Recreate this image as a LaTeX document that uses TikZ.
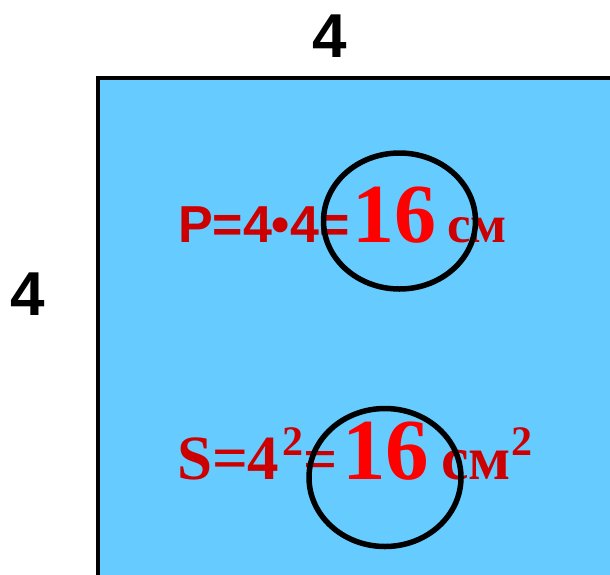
\documentclass[tikz,border=0pt]{standalone}
\usepackage{fontspec}
\newfontfamily\arialb{Liberation Sans}[UprightFont=* Bold]
\newfontfamily\timesb{Liberation Serif}[UprightFont=* Bold]
\definecolor{sqblue}{HTML}{66CCFF}
\definecolor{dred}{HTML}{CC0000}
\definecolor{bred}{HTML}{FF0000}
\tikzset{
  txt/.style={inner sep=0pt, outer sep=0pt, anchor=base west},
  ring/.style={draw=black, line width=5.5pt},
}
\begin{document}
\begin{tikzpicture}[x=1pt,y=-1pt]
\useasboundingbox (0,0) rectangle (610,574);
\fill[white] (0,0) rectangle (610,574);
% square
\draw[fill=sqblue, line width=3.5pt] (98,78) -- (614,78) -- (614,578) -- (98,578) -- cycle;
\node[txt] (top) at (312,57) {\fontsize{62}{62}\arialb 4};
\node[txt] (left) at (10,315) {\fontsize{62}{62}\arialb 4};
% line 1
\node[txt, text=dred] (p1) at (178,242) {\fontsize{52}{52}\arialb P=4•4=};
\node[txt, text=bred] (p2) at (352,242) {\fontsize{84}{84}\timesb 16};
\node[txt, text=dred] (p3) at (447,242) {\fontsize{53}{53}\timesb см};
% line 2
\node[txt, text=dred] (s1) at (177,479) {\fontsize{63}{63}\timesb S=4};
\node[txt, text=dred] (s2) at (282,455) {\fontsize{42}{42}\timesb 2};
\node[txt, text=dred] (s3) at (303,479) {\fontsize{60}{60}\timesb =};
\node[txt, text=bred] (s4) at (342,479) {\fontsize{87}{87}\timesb 16};
\node[txt, text=dred] (s5) at (441,479) {\fontsize{62}{62}\timesb см};
\node[txt, text=dred] (s6) at (511,455) {\fontsize{42}{42}\timesb 2};
% rings
\draw[ring] (399.5,221) ellipse [x radius=76, y radius=68];
\draw[ring] (385,477.5) ellipse [x radius=76, y radius=69];
\end{tikzpicture}
\end{document}
